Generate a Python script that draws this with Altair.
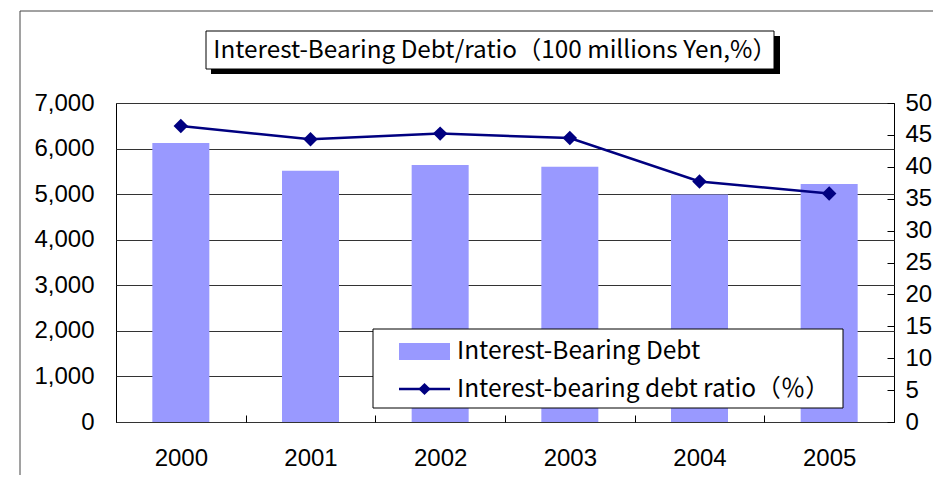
import altair as alt
import pandas as pd

years = ["2000", "2001", "2002", "2003", "2004", "2005"]
debt = [6120, 5515, 5640, 5600, 4990, 5225]
ratio = [46.4, 44.3, 45.2, 44.5, 37.7, 35.8]
left_ticks = [0, 1000, 2000, 3000, 4000, 5000, 6000, 7000]
right_ticks = [0, 5, 10, 15, 20, 25, 30, 35, 40, 45, 50]
title_text = "Interest-Bearing Debt/ratio（100 millions Yen,%）"
legend_labels = ["Interest-Bearing Debt", "Interest-bearing debt ratio（％）"]

BAR = "#9999FF"
LINE = "#000080"
AXFONT = "Liberation Sans"
JPFONT = "Noto Sans CJK JP"

df = pd.DataFrame({"year": years, "debt": debt, "ratio": ratio})
one = pd.DataFrame({"k": [0]})

W, H = 778, 319

xenc = alt.X(
    "year:N",
    sort=years,
    scale=alt.Scale(paddingInner=0, paddingOuter=0),
    axis=alt.Axis(
        title=None, labelAngle=0, labelFont=AXFONT, labelFontSize=24,
        labelColor="black", domain=False, ticks=True, tickBand="extent",
        tickSize=7, tickColor="black", offset=-7, labelPadding=24, grid=False,
    ),
)

bars = alt.Chart(df).mark_bar(color=BAR, size=57).encode(
    x=xenc,
    y=alt.Y(
        "debt:Q",
        scale=alt.Scale(domain=[0, 7000], nice=False, zero=True),
        axis=alt.Axis(
            orient="left", title=None, values=left_ticks, format=",.0f",
            labelFont=AXFONT, labelFontSize=24, labelColor="black",
            domain=False, ticks=False, labelPadding=22,
            grid=True, gridColor="#333333", gridWidth=1,
        ),
    ),
)

line = alt.Chart(df).mark_line(
    color=LINE, strokeWidth=2.5,
    point=alt.OverlayMarkDef(shape="diamond", size=210, filled=True, color=LINE),
).encode(
    x=xenc,
    y=alt.Y(
        "ratio:Q",
        scale=alt.Scale(domain=[0, 50], nice=False, zero=True),
        axis=alt.Axis(
            orient="right", title=None, values=right_ticks,
            labelFont=AXFONT, labelFontSize=24, labelColor="black",
            domain=False, ticks=True, tickSize=7, tickColor="black",
            offset=-7, labelPadding=11, grid=False,
        ),
    ),
)

base1 = alt.Chart(one)

outer = base1.mark_rect(filled=False, stroke="#444444", strokeWidth=1).encode(
    x=alt.value(-96), x2=alt.value(1000), y=alt.value(-92), y2=alt.value(600)
)

title_shadow = base1.mark_rect(color="black").encode(
    x=alt.value(95), x2=alt.value(664), y=alt.value(-67), y2=alt.value(-29)
)
title_box = base1.mark_rect(fill="white", stroke="black", strokeWidth=1).encode(
    x=alt.value(90), x2=alt.value(658), y=alt.value(-72), y2=alt.value(-34)
)
title = base1.mark_text(
    font=JPFONT, fontSize=24.3, color="black", align="center", baseline="middle"
).encode(x=alt.value(379), y=alt.value(-52), text=alt.value(title_text))

legend_box = base1.mark_rect(fill="white", stroke="black", strokeWidth=1).encode(
    x=alt.value(257), x2=alt.value(727), y=alt.value(226), y2=alt.value(305)
)
leg_bar = base1.mark_rect(color=BAR).encode(
    x=alt.value(283), x2=alt.value(334), y=alt.value(240), y2=alt.value(257)
)
leg_line = base1.mark_rule(color=LINE, strokeWidth=2.5).encode(
    x=alt.value(283), x2=alt.value(334), y=alt.value(286)
)
leg_pt = base1.mark_point(shape="diamond", size=150, filled=True, color=LINE, opacity=1).encode(
    x=alt.value(308.5), y=alt.value(286)
)
leg_t1 = base1.mark_text(
    font=JPFONT, fontSize=24.5, color="black", align="left", baseline="middle"
).encode(x=alt.value(341), y=alt.value(249), text=alt.value(legend_labels[0]))
leg_t2 = base1.mark_text(
    font=JPFONT, fontSize=24.5, color="black", align="left", baseline="middle"
).encode(x=alt.value(341), y=alt.value(287), text=alt.value(legend_labels[1]))

chart = alt.layer(
    outer, bars, line, title_shadow, title_box, title,
    legend_box, leg_bar, leg_line, leg_pt, leg_t1, leg_t2,
).resolve_scale(y="independent").properties(
    width=W, height=H,
    autosize=alt.AutoSizeParams(type="none"),
    padding={"left": 108, "top": 95, "right": 39, "bottom": 53},
    background="white",
).configure_view(stroke="black", strokeWidth=1)

chart.save("out.html", embed_options={"renderer": "svg", "actions": False})
